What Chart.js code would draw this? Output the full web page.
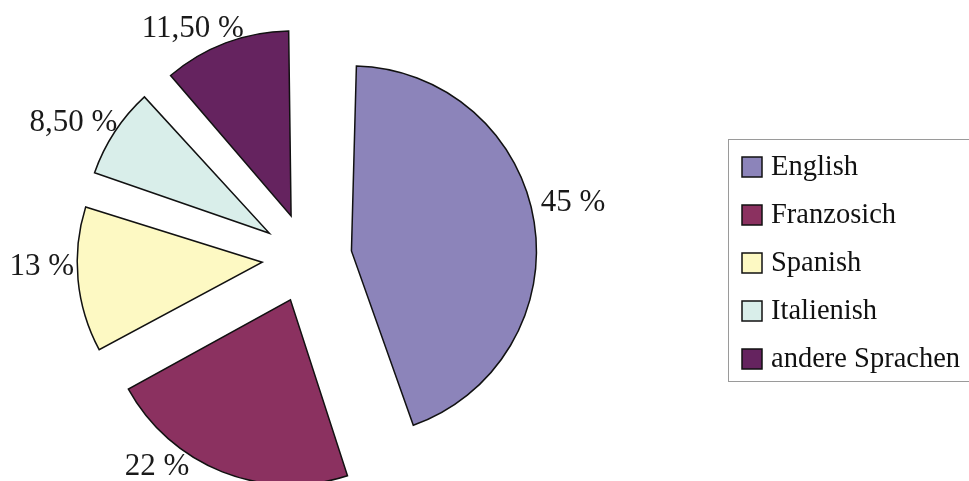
<!DOCTYPE html>
<html>
<head>
<meta charset="utf-8">
<script src="https://cdn.jsdelivr.net/npm/chart.js@4.4.1/dist/chart.umd.min.js"></script>
<style>
  html, body { margin: 0; padding: 0; background: #fff; }
  #wrap { width: 969px; height: 481px; position: relative; }
</style>
</head>
<body>
<div id="wrap"><canvas id="pie"></canvas></div>
<script>
const languages = ["English", "Franzosich", "Spanish", "Italienish", "andere Sprachen"];
const shares = [45, 22, 13, 8.5, 11.5];
const sliceColors = ["#8c84ba", "#8b3160", "#fdf9c3", "#d9eeea", "#65235f"];

const EXPLODE = 45;   // px every slice is pulled out
const RADIUS = 185;
const labelNudge = [-3.3, 17, 4.3, -4, -7];  // degrees, label angle vs slice middle
const labelGap = [8, 0, 3, -4, -7];

function fmtPct(v) {
  return Number.isInteger(v) ? v + " %" : v.toFixed(2).replace(".", ",") + " %";
}

// Chart.js draws an offset arc moved by offset/4 but also grows its radius by
// offset/4 * (1 - sin(circumference)); shrink each arc back so all have RADIUS
const evenExplode = {
  id: "evenExplode",
  afterDatasetUpdate(chart) {
    chart.getDatasetMeta(0).data.forEach((arc) => {
      const fix = 1 - Math.sin(Math.min(Math.PI, arc.circumference));
      arc.outerRadius = RADIUS - EXPLODE * fix;
    });
  }
};

const pctLabels = {
  id: "pctLabels",
  afterDatasetsDraw(chart) {
    const { ctx } = chart;
    const arcs = chart.getDatasetMeta(0).data;
    ctx.save();
    ctx.font = "31px 'Liberation Serif'";
    ctx.fillStyle = "#1a1a1a";
    ctx.textAlign = "center";
    ctx.textBaseline = "middle";
    arcs.forEach((arc, i) => {
      const mid = (arc.startAngle + arc.endAngle) / 2;
      const ax = arc.x + Math.cos(mid) * EXPLODE;
      const ay = arc.y + Math.sin(mid) * EXPLODE;
      const a = mid + labelNudge[i] * Math.PI / 180;
      const text = fmtPct(shares[i]);
      const w = ctx.measureText(text).width;
      const dx = Math.cos(a), dy = Math.sin(a);
      const half = Math.abs(dx) * w / 2 + Math.abs(dy) * 11;
      const d = RADIUS + labelGap[i] + half;
      ctx.fillText(text, ax + dx * d, ay + dy * d);
    });
    ctx.restore();
  }
};

const boxLegend = {
  id: "boxLegend",
  afterDraw(chart) {
    const { ctx } = chart;
    ctx.save();
    ctx.strokeStyle = "#9a9a9a";
    ctx.lineWidth = 1;
    ctx.strokeRect(728.5, 139.5, 280, 242);
    ctx.font = "28.5px 'Liberation Serif'";
    ctx.textBaseline = "middle";
    languages.forEach((name, i) => {
      const y = 167 + i * 48;
      ctx.fillStyle = sliceColors[i];
      ctx.fillRect(742, y - 10, 20, 20);
      ctx.strokeStyle = "#111";
      ctx.lineWidth = 1.5;
      ctx.strokeRect(742, y - 10, 20, 20);
      ctx.fillStyle = "#111";
      ctx.fillText(name, 771, y + 1);
    });
    ctx.restore();
  }
};

new Chart(document.getElementById("pie").getContext("2d"), {
  type: "pie",
  data: {
    labels: languages,
    datasets: [
      {
        data: shares,
        backgroundColor: sliceColors,
        borderColor: "#111",
        borderWidth: 1.5,
        borderJoinStyle: "miter",
        offset: EXPLODE * 4,
        hoverOffset: 0,
      },
    ],
  },
  options: {
    responsive: true,
    maintainAspectRatio: false,
    animation: false,
    events: [],
    radius: RADIUS,
    layout: { padding: { top: 35, right: 355, left: 0, bottom: 0 } },
    plugins: {
      legend: { display: false },
      tooltip: { enabled: false },
    },
  },
  plugins: [evenExplode, pctLabels, boxLegend],
});
</script>
</body>
</html>
